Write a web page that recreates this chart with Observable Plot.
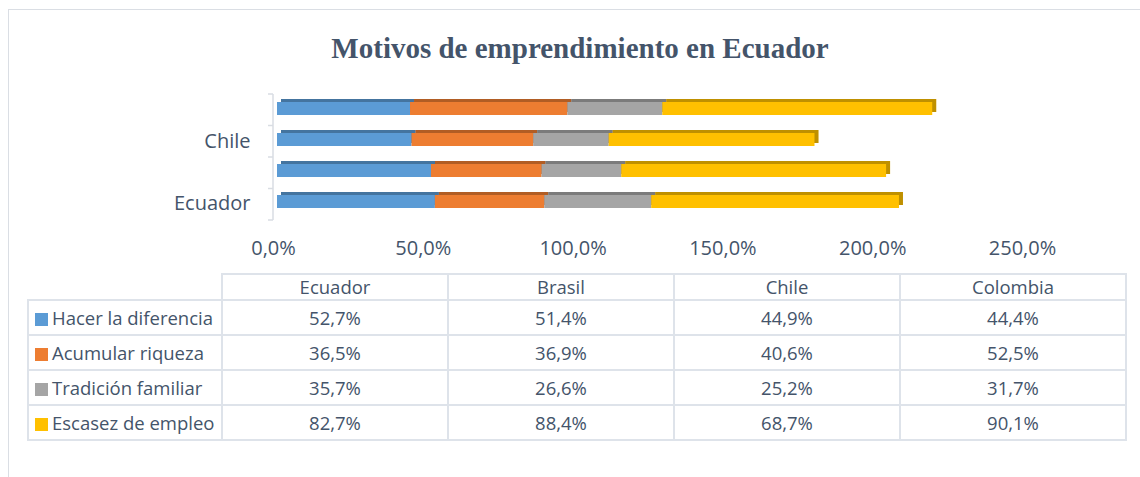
<!DOCTYPE html>
<html><head><meta charset="utf-8">
<script src="https://cdn.jsdelivr.net/npm/d3@7"></script>
<script src="https://cdn.jsdelivr.net/npm/@observablehq/plot@0.6"></script>
<style>
body{margin:0;background:#fff;}
#wrap{position:relative;width:1140px;height:477px;overflow:hidden;font-family:"Open Sans",sans-serif;color:#44546A;background:#fff;}
#frame{position:absolute;left:8px;top:9px;width:1140px;height:480px;border-top:1.5px solid #DADEE4;border-left:1.5px solid #DADEE4;}
#title{position:absolute;left:0;width:1160px;top:32px;text-align:center;font-family:"Liberation Serif",serif;font-weight:bold;font-size:29px;color:#44546A;}
#chart{position:absolute;left:0;top:0;}
table{position:absolute;left:27px;top:273px;border-collapse:collapse;font-family:"Open Sans",sans-serif;font-size:18.5px;color:#44546A;}
td{border:2px solid #DEE3EA;text-align:center;padding:0;height:33px;width:224px;line-height:20px;}
tr.head td{height:24px;}
td.lab{width:192px;text-align:left;white-space:nowrap;}
td.blank{border-top:none;border-left:none;}
.sw{display:inline-block;width:13px;height:13px;margin:0 4px 0 6px;vertical-align:-1px;}
</style></head>
<body>
<div id="wrap">
  <div id="frame"></div>
  <div id="title">Motivos de emprendimiento en Ecuador</div>
  <div id="chart"></div>
  <table id="tbl"></table>
</div>
<script>
// ---- data ----
const countries = ["Ecuador", "Brasil", "Chile", "Colombia"];
const series = ["Hacer la diferencia", "Acumular riqueza", "Tradición familiar", "Escasez de empleo"];
const hacerDiferencia = [52.7, 51.4, 44.9, 44.4];
const acumularRiqueza = [36.5, 36.9, 40.6, 52.5];
const tradicionFamiliar = [35.7, 26.6, 25.2, 31.7];
const escasezEmpleo = [82.7, 88.4, 68.7, 90.1];
const xTicks = [0, 50, 100, 150, 200, 250];
const yTickLabels = ["Ecuador", "Chile"];
const colors = ["#5B9BD5", "#ED7D31", "#A5A5A5", "#FFC000"];

const values = [hacerDiferencia, acumularRiqueza, tradicionFamiliar, escasezEmpleo];
const rows = [];
series.forEach((s, si) => countries.forEach((c, ci) => rows.push({country: c, series: s, value: values[si][ci]})));

const fmt = v => v.toFixed(1).replace(".", ",") + "%";

const yAxisLine = (index, scales, vals, dim) => {
  const g = d3.create("svg:g");
  const x0 = dim.marginLeft;
  const top = dim.marginTop, bottom = dim.height - dim.marginBottom;
  g.append("line").attr("x1", x0).attr("x2", x0).attr("y1", top).attr("y2", bottom)
    .attr("stroke", "#D9DDE3").attr("stroke-width", 1.5);
  const n = countries.length;
  for (let i = 0; i <= n; i++) {
    const y = top + (bottom - top) * i / n;
    g.append("line").attr("x1", x0 - 5).attr("x2", x0).attr("y1", y).attr("y2", y)
      .attr("stroke", "#D9DDE3").attr("stroke-width", 1.5);
  }
  return g.node();
};

const stackOpts = (extra) => Plot.stackX({x: "value", y: "country", z: "series", order: series, ...extra});

const chart = Plot.plot({
  width: 1140,
  height: 265,
  marginLeft: 273,
  marginRight: 118,
  marginTop: 94,
  marginBottom: 45,
  style: {fontSize: "20px", fontFamily: "'Open Sans', sans-serif", color: "#44546A", background: "transparent"},
  x: {domain: [0, 250], ticks: xTicks, tickFormat: fmt, tickSize: 0, tickPadding: 20, label: null, line: false},
  y: {domain: countries.slice().reverse(), paddingInner: 0.59, paddingOuter: 0.295, label: null,
      tickSize: 0, tickPadding: 23, tickFormat: d => yTickLabels.includes(d) ? d : ""},
  color: {domain: series, range: colors},
  marks: [
    yAxisLine,
    Plot.barX(rows, stackOpts({fill: "series", dx: 8, dy: -5})),
    Plot.barX(rows, stackOpts({fill: "#000", fillOpacity: 0.25, dx: 8, dy: -5})),
    Plot.barX(rows, stackOpts({fill: "series", dx: 4, dy: -2}))
  ]
});
document.getElementById("chart").appendChild(chart);

// ---- data table ----
const tbl = d3.select("#tbl");
const head = tbl.append("tr").attr("class", "head");
head.append("td").attr("class", "lab blank");
countries.forEach(c => head.append("td").text(c));
series.forEach((s, si) => {
  const tr = tbl.append("tr");
  const td = tr.append("td").attr("class", "lab");
  td.append("span").attr("class", "sw").style("background", colors[si]);
  td.append("span").text(s);
  countries.forEach((c, ci) => tr.append("td").text(fmt(values[si][ci])));
});
</script>
</body></html>
